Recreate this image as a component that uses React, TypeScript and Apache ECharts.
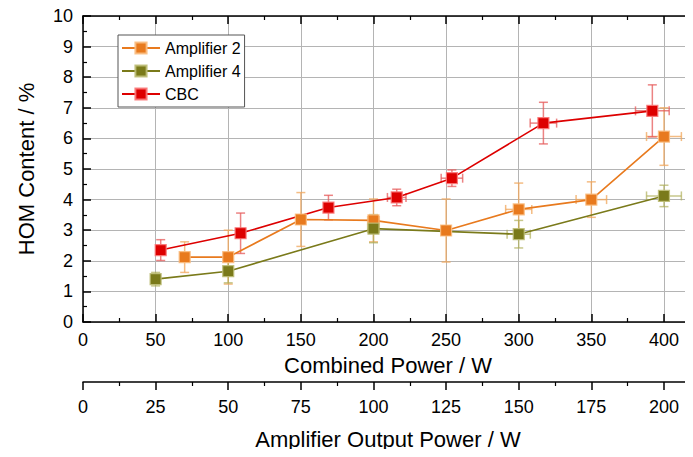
import React, { useEffect, useRef } from "react";
import * as echarts from "echarts";

// [combined power (W), HOM content (%), x error (W), y error (%)]
const amp2X = [70, 100, 150, 200, 250, 300, 350, 400];
const amp2Y = [2.12, 2.12, 3.35, 3.32, 2.99, 3.68, 4.0, 6.06];
const amp2XErr = [0, 0, 0, 4, 0, 9, 10.5, 12];
const amp2YErr = [0.5, 0.88, 0.88, 0.7, 1.03, 0.86, 0.58, 0.94];

const amp4X = [50, 100, 200, 300, 400];
const amp4Y = [1.4, 1.66, 3.05, 2.87, 4.12];
const amp4XErr = [0, 0, 4, 8, 12];
const amp4YErr = [0.22, 0.38, 0.46, 0.45, 0.35];

const cbcX = [53.5, 108.5, 169, 216, 254, 317, 392];
const cbcY = [2.35, 2.9, 3.74, 4.07, 4.7, 6.5, 6.9];
const cbcXErr = [0, 0, 0, 6.4, 7.4, 9.1, 11.6];
const cbcYErr = [0.34, 0.66, 0.4, 0.27, 0.27, 0.68, 0.85];

const FONT = "'Liberation Sans', Arial, sans-serif";

function zip(x: number[], y: number[]) {
  return x.map((v, i) => [v, y[i]]);
}
function zip4(x: number[], y: number[], xe: number[], ye: number[]) {
  return x.map((v, i) => [v, y[i], xe[i], ye[i]]);
}

function errRender(color: string) {
  return (_params: any, api: any) => {
    const x = api.value(0);
    const y = api.value(1);
    const xe = api.value(2);
    const ye = api.value(3);
    const c = api.coord([x, y]);
    const top = api.coord([x, y + ye]);
    const bot = api.coord([x, y - ye]);
    const cap = 4.5;
    const st = { stroke: color, lineWidth: 1.5 };
    const children: any[] = [
      { type: "line", shape: { x1: c[0], y1: top[1], x2: c[0], y2: bot[1] }, style: st },
      { type: "line", shape: { x1: c[0] - cap, y1: top[1], x2: c[0] + cap, y2: top[1] }, style: st },
      { type: "line", shape: { x1: c[0] - cap, y1: bot[1], x2: c[0] + cap, y2: bot[1] }, style: st },
    ];
    if (xe > 0) {
      const l = api.coord([x - xe, y]);
      const r = api.coord([x + xe, y]);
      children.push(
        { type: "line", shape: { x1: l[0], y1: c[1], x2: r[0], y2: c[1] }, style: st },
        { type: "line", shape: { x1: l[0], y1: c[1] - cap, x2: l[0], y2: c[1] + cap }, style: st },
        { type: "line", shape: { x1: r[0], y1: c[1] - cap, x2: r[0], y2: c[1] + cap }, style: st }
      );
    }
    return { type: "group", children };
  };
}

const ORANGE = "#E87A1E";
const OLIVE = "#7A7A1A";
const RED = "#DD0000";

export default function App() {
  const ref = useRef<HTMLDivElement>(null);
  useEffect(() => {
    if (!ref.current) return;
    const chart = echarts.init(ref.current, undefined, { renderer: "svg" });
    const axisLine = { show: true, lineStyle: { color: "#000", width: 1.5 } };
    const splitLine = { show: true, lineStyle: { color: "#b4b4b4", width: 1 } };
    const labelStyle = { fontFamily: FONT, fontSize: 18, color: "#000" };
    const nameStyle = { fontFamily: FONT, fontSize: 22, color: "#000" };
    const lineSeries = (name: string, color: string, border: string, data: number[][]) => ({
      name,
      type: "line",
      data,
      symbol: "rect",
      symbolSize: 11,
      z: 5,
      lineStyle: { color, width: 1.6 },
      itemStyle: { color, borderColor: border, borderWidth: 1.2 },
      xAxisIndex: 0,
      yAxisIndex: 0,
    });
    const errSeries = (color: string, data: number[][]) => ({
      type: "custom",
      renderItem: errRender(color),
      data,
      z: 3,
      silent: true,
      xAxisIndex: 0,
      yAxisIndex: 0,
      encode: { x: 0, y: 1 },
    });
    chart.setOption({
      animation: false,
      backgroundColor: "#fff",
      grid: { left: 83, right: -2, top: 16, bottom: 135, containLabel: false },
      legend: {
        left: 118,
        top: 35,
        orient: "vertical",
        itemWidth: 38,
        itemHeight: 14,
        itemGap: 7,
        padding: [5, 4, 5, 3],
        borderColor: "#555",
        borderWidth: 1,
        backgroundColor: "#fff",
        textStyle: { fontFamily: FONT, fontSize: 16, color: "#000" },
        data: ["Amplifier 2", "Amplifier 4", "CBC"],
      },
      xAxis: [
        {
          type: "value",
          position: "bottom",
          min: 0,
          max: 420,
          interval: 50,
          axisLine,
          axisTick: { show: true, inside: true, length: 8, lineStyle: { color: "#000", width: 1.5 } },
          minorTick: { show: true, splitNumber: 2, length: 4, lineStyle: { color: "#000", width: 1.2 } },
          splitLine,
          axisLabel: {
            ...labelStyle,
            margin: 9,
            showMaxLabel: false,
            formatter: (v: number) => (v % 50 === 0 ? String(v) : ""),
          },
          name: "Combined Power / W",
          nameLocation: "middle",
          nameGap: 32,
          nameTextStyle: nameStyle,
        },
        {
          type: "value",
          position: "top",
          min: 0,
          max: 420,
          interval: 50,
          axisLine,
          axisTick: { show: true, inside: true, length: 8, lineStyle: { color: "#000", width: 1.5 } },
          minorTick: { show: true, splitNumber: 2, length: 4, lineStyle: { color: "#000", width: 1.2 } },
          splitLine: { show: false },
          axisLabel: { show: false },
        },
        {
          type: "value",
          position: "bottom",
          offset: 60,
          min: 0,
          max: 210,
          interval: 25,
          axisLine,
          axisTick: { show: true, inside: false, length: 8, lineStyle: { color: "#000", width: 1.5 } },
          minorTick: { show: true, splitNumber: 2, length: 4, lineStyle: { color: "#000", width: 1.2 } },
          splitLine: { show: false },
          axisLabel: {
            ...labelStyle,
            margin: 16,
            showMaxLabel: false,
            formatter: (v: number) => (v % 25 === 0 ? String(v) : ""),
          },
          name: "Amplifier Output Power / W",
          nameLocation: "middle",
          nameGap: 46,
          nameTextStyle: nameStyle,
        },
      ],
      yAxis: [
        {
          type: "value",
          min: 0,
          max: 10,
          interval: 1,
          axisLine,
          axisTick: { show: true, inside: true, length: 8, lineStyle: { color: "#000", width: 1.5 } },
          minorTick: { show: true, splitNumber: 2, length: 4, lineStyle: { color: "#000", width: 1.2 } },
          splitLine,
          axisLabel: { ...labelStyle, margin: 10 },
          name: "HOM Content / %",
          nameLocation: "middle",
          nameGap: 46,
          nameTextStyle: nameStyle,
        },
      ],
      series: [
        errSeries("rgba(240,165,90,0.75)", zip4(amp2X, amp2Y, amp2XErr, amp2YErr)),
        errSeries("rgba(175,175,90,0.7)", zip4(amp4X, amp4Y, amp4XErr, amp4YErr)),
        errSeries("rgba(230,90,90,0.75)", zip4(cbcX, cbcY, cbcXErr, cbcYErr)),
        lineSeries("Amplifier 2", ORANGE, "rgba(250,190,130,0.9)", zip(amp2X, amp2Y)),
        lineSeries("Amplifier 4", OLIVE, "rgba(190,190,120,0.9)", zip(amp4X, amp4Y)),
        lineSeries("CBC", RED, "rgba(250,120,120,0.9)", zip(cbcX, cbcY)),
      ],
    });
    return () => chart.dispose();
  }, []);
  return <div ref={ref} style={{ width: 693, height: 457, margin: -8 }} />;
}
